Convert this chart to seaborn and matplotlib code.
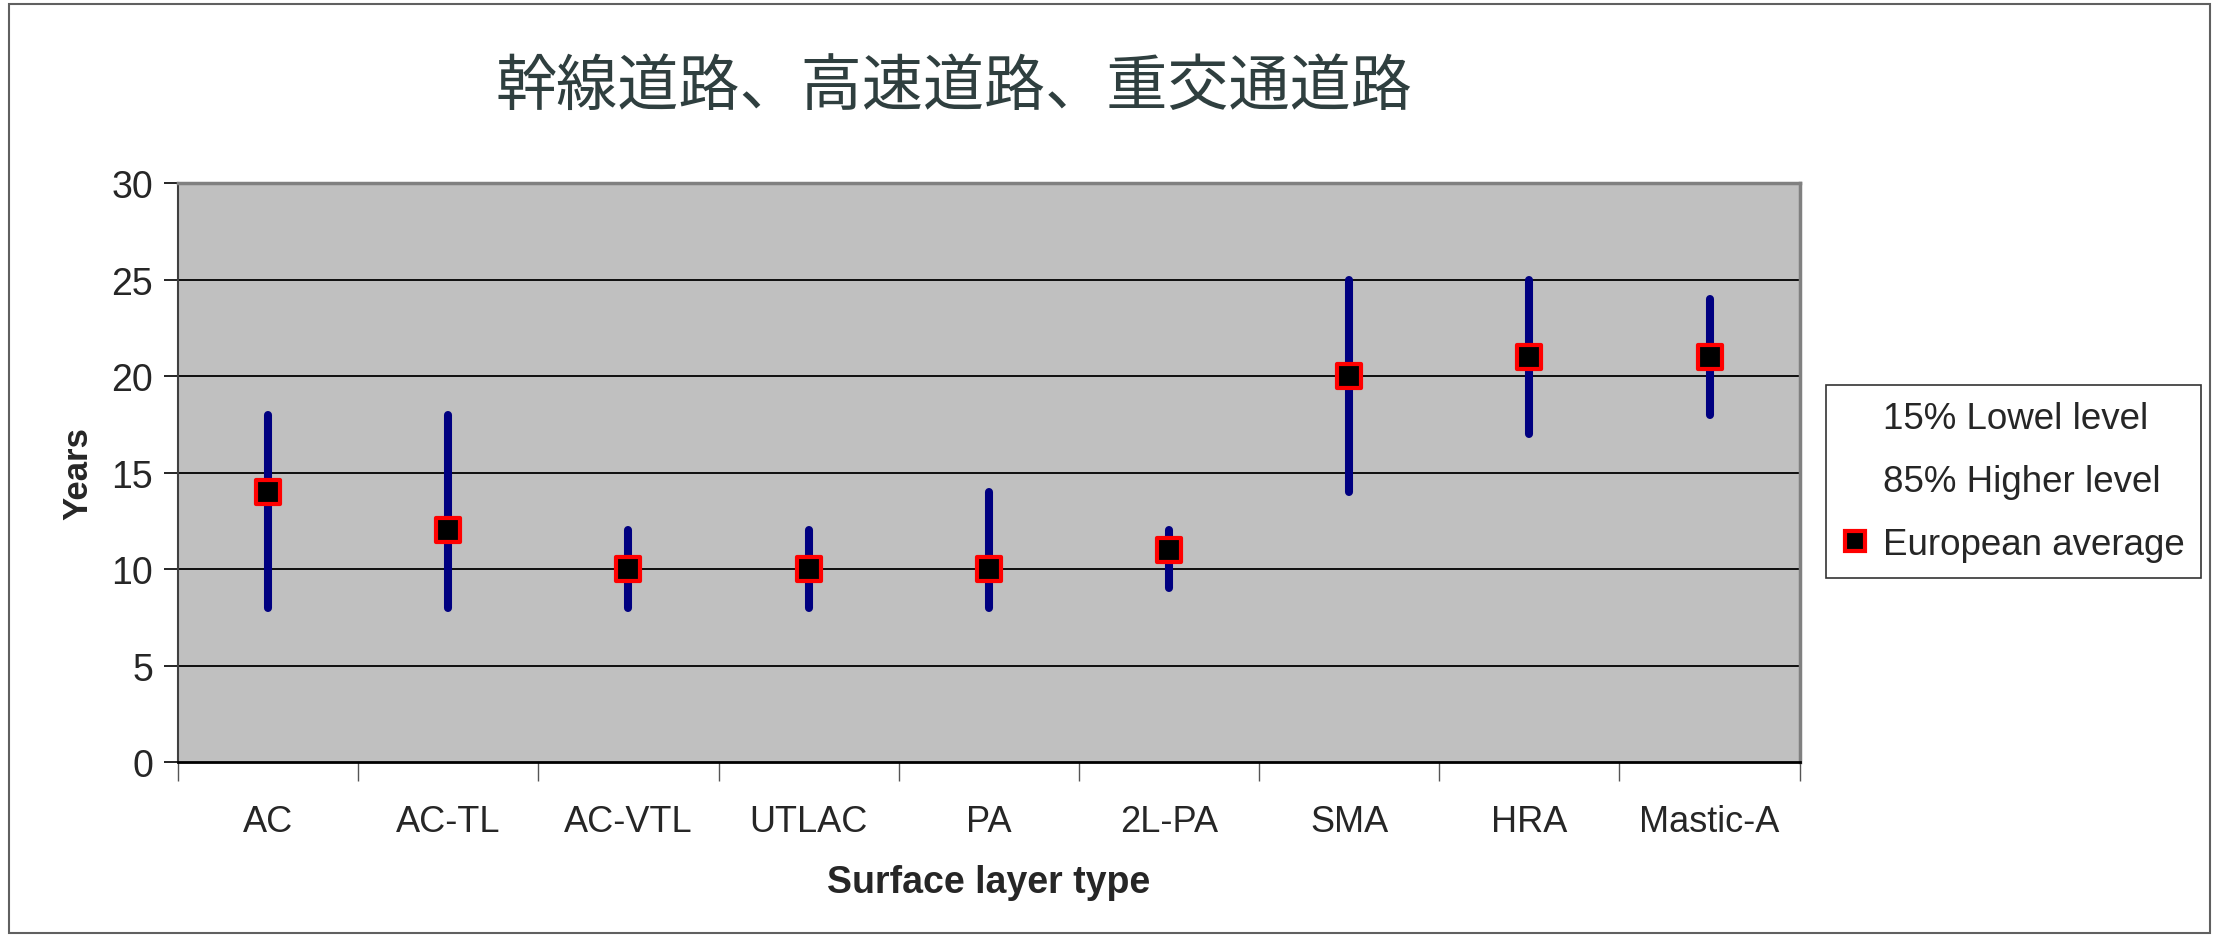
import matplotlib
matplotlib.use('Agg')
import matplotlib.pyplot as plt
from matplotlib.lines import Line2D
from matplotlib.patches import Rectangle
import seaborn as sns
import pandas as pd

# data
categories = ['AC', 'AC-TL', 'AC-VTL', 'UTLAC', 'PA', '2L-PA', 'SMA', 'HRA', 'Mastic-A']
low_15 = [8, 8, 8, 8, 8, 9, 14, 17, 18]
high_85 = [18, 18, 12, 12, 14, 12, 25, 25, 24]
european_avg = [14, 12, 10, 10, 10, 11, 20, 21, 21]
y_ticks = [0, 5, 10, 15, 20, 25, 30]

df = pd.DataFrame({'type': categories, 'low': low_15, 'high': high_85, 'avg': european_avg})

sns.set_style('white')
plt.rcParams['font.family'] = ['Liberation Sans', 'DejaVu Sans']

fig = plt.figure(figsize=(22.19, 9.37), dpi=100)
ax = fig.add_axes([0.0802, 0.1857, 0.7308, 0.6179])
ax.set_facecolor('#c0c0c0')

# range bars (15% - 85%)
ax.vlines(range(len(categories)), df['low'], df['high'], color='#000080',
          linewidth=5.8, capstyle='round', zorder=3)

# european average markers
sns.scatterplot(data=df, x='type', y='avg', marker='s', s=290, color='black',
                edgecolor='red', linewidth=3, zorder=4, ax=ax, legend=False)

ax.set_ylim(0, 30)
ax.set_xlim(-0.5, len(categories) - 0.5)
ax.set_yticks(y_ticks)
ax.set_yticklabels([str(v) for v in y_ticks], fontsize=27)
ax.set_xticks(range(len(categories)))
ax.set_xticklabels(categories, fontsize=26)
ax.set_xticks([i - 0.5 for i in range(len(categories) + 1)], minor=True)
ax.tick_params(axis='x', which='major', length=0, pad=30)
ax.tick_params(axis='x', which='minor', bottom=True, length=14, width=1, color='#555555',
               direction='out')
ax.tick_params(axis='y', which='major', length=10, width=1.2, color='black', direction='out', pad=8,
               left=True)

for v in y_ticks[1:-1]:
    ax.axhline(v, color='black', linewidth=1.3, zorder=1)

for side in ['top', 'right']:
    ax.spines[side].set_color('#808080')
    ax.spines[side].set_linewidth(2.5)
ax.spines['left'].set_color('#404040')
ax.spines['left'].set_linewidth(1.5)
ax.spines['bottom'].set_color('black')
ax.spines['bottom'].set_linewidth(2)

ax.set_xlabel('Surface layer type', fontsize=27, fontweight='bold', labelpad=18)
ax.set_ylabel('Years', fontsize=25, fontweight='bold', labelpad=12)

fig.text(0.43, 0.906, '幹線道路、高速道路、重交通道路', fontsize=44, color='#2f3f3f',
         ha='center', va='center', family=['Noto Sans CJK JP', 'DejaVu Sans'])

handles = [
    Line2D([], [], linestyle='none'),
    Line2D([], [], linestyle='none'),
    Line2D([], [], linestyle='none', marker='s', markersize=14, markerfacecolor='black',
           markeredgecolor='red', markeredgewidth=3),
]
labels = ['15% Lowel level', '85% Higher level', 'European average']
leg = fig.legend(handles, labels, loc='center', bbox_to_anchor=(0.9075, 0.485),
                 fontsize=26.5, frameon=True, fancybox=False, handlelength=0.65,
                 handletextpad=0.45, borderpad=0.45, labelspacing=0.75, borderaxespad=0)
leg.get_frame().set_edgecolor('black')
leg.get_frame().set_linewidth(1.2)

fig.patches.append(Rectangle((0.004, 0.003), 0.992, 0.992, transform=fig.transFigure,
                             fill=False, edgecolor='#606060', linewidth=1.5))

fig.savefig('out.png', dpi=100)
